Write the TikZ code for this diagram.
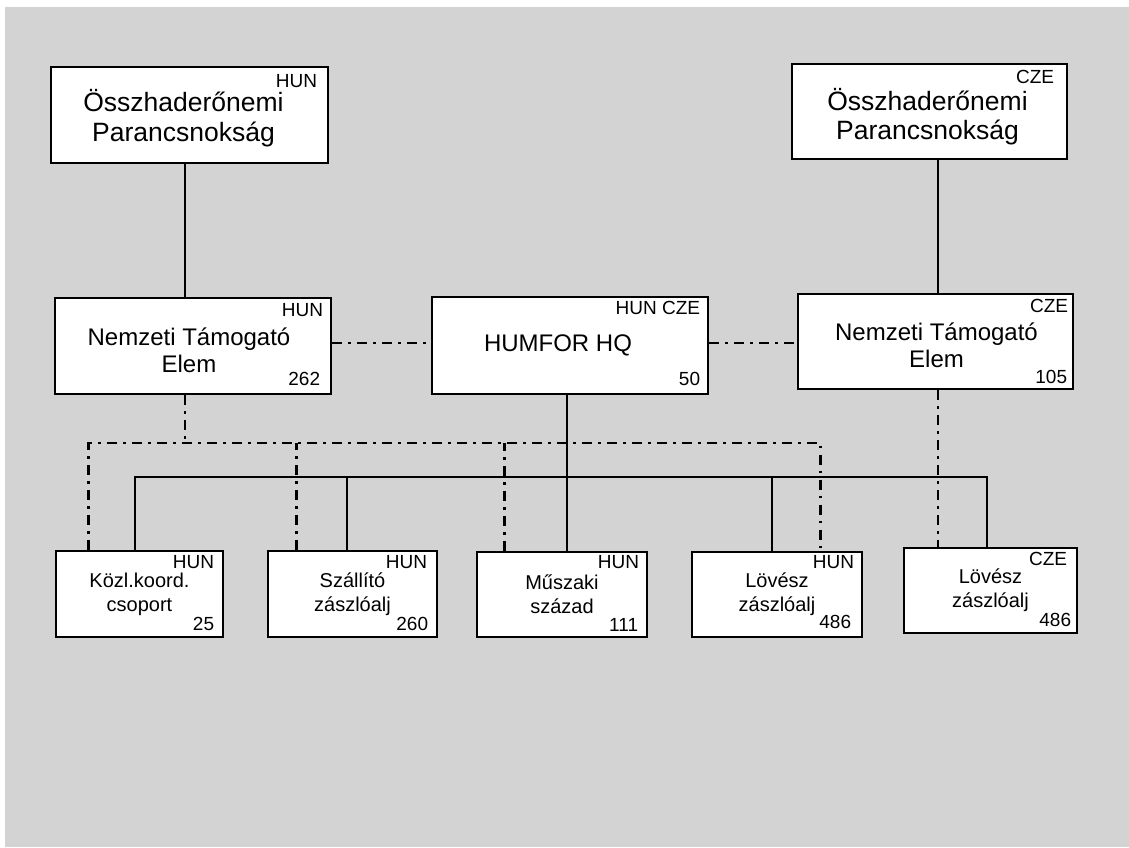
\documentclass[tikz,border=0pt]{standalone}
\usepackage{fontspec}
\setmainfont{Liberation Sans}
\usetikzlibrary{calc}

\definecolor{panel}{RGB}{211,211,211}

\tikzset{
  orgbox/.style={draw, line width=2.6pt, fill=white, inner sep=0pt},
  bigbox/.style={orgbox, minimum width=276pt, minimum height=96pt},
  smallbox/.style={orgbox, minimum width=169pt, minimum height=85pt, align=center,
    font=\fontsize{20}{24}\selectfont},
  toptext/.style={inner sep=0pt, align=center, font=\fontsize{26.5}{29.5}\selectfont},
  midtext/.style={inner sep=0pt, align=center, font=\fontsize{24}{27}\selectfont},
  corner/.style={inner sep=0pt, anchor=base east, font=\fontsize{19}{19}\selectfont},
  link/.style={line width=2pt},
  liaison/.style={line width=2.5pt, dash pattern=on 10pt off 6pt on 2.5pt off 6.5pt}
}

\begin{document}
\begin{tikzpicture}[x=1pt,y=-1pt]
\fill[white] (0,0) rectangle (1129,847);
\fill[panel] (5,7) rectangle (1129,847);
\useasboundingbox (0,0) rectangle (1129,847);

% joint commands
\node[bigbox, minimum width=277pt] (hqH) at (189.5,115) {};
\node[toptext] (hqH-txt) at ([shift={(-6,3)}]hqH.center) {Összhaderőnemi\\Parancsnokság};
\node[corner] (hqH-nat) at ([shift={(-12,22)}]hqH.north east) {HUN};

\node[bigbox, minimum width=275pt, minimum height=95pt] (hqC) at (929.5,111.5) {};
\node[toptext] (hqC-txt) at ([shift={(-2,5)}]hqC.center) {Összhaderőnemi\\Parancsnokság};
\node[corner] (hqC-nat) at ([shift={(-14,21)}]hqC.north east) {CZE};

% national support elements and HQ
\node[bigbox] (nteH) at (193,346) {};
\node[midtext] (nteH-txt) at ([shift={(-4,4)}]nteH.center) {Nemzeti Támogató\\Elem};
\node[corner] (nteH-nat) at ([shift={(-9,20)}]nteH.north east) {HUN};
\node[corner] (nteH-num) at ([shift={(-12,-10)}]nteH.south east) {262};

\node[bigbox, minimum height=97pt] (hq) at (570,345.5) {};
\node[midtext] (hq-txt) at ([shift={(-12,0)}]hq.center) {HUMFOR HQ};
\node[corner] (hq-nat) at ([shift={(-9,19)}]hq.north east) {HUN CZE};
\node[corner] (hq-num) at ([shift={(-9,-10)}]hq.south east) {50};

\node[bigbox, minimum width=275pt, minimum height=95pt] (nteC) at (935.5,341.5) {};
\node[midtext] (nteC-txt) at ([shift={(1,4)}]nteC.center) {Nemzeti Támogató\\Elem};
\node[corner] (nteC-nat) at ([shift={(-6,20)}]nteC.north east) {CZE};
\node[corner] (nteC-num) at ([shift={(-7,-7)}]nteC.south east) {105};

% units
\node[smallbox, minimum width=167pt, minimum height=86pt] (kozl) at (139.5,594) {Közl.koord.\\csoport};
\node[corner] (kozl-nat) at ([shift={(-10,19)}]kozl.north east) {HUN};
\node[corner] (kozl-num) at ([shift={(-10,-8)}]kozl.south east) {25};

\node[smallbox, minimum height=86pt] (szall) at (352.5,594) {Szállító\\zászlóalj};
\node[corner] (szall-nat) at ([shift={(-11,19)}]szall.north east) {HUN};
\node[corner] (szall-num) at ([shift={(-10,-8)}]szall.south east) {260};

\node[smallbox, minimum width=170pt] (musz) at (562,594.5) {Műszaki\\század};
\node[corner] (musz-nat) at ([shift={(-9,18)}]musz.north east) {HUN};
\node[corner] (musz-num) at ([shift={(-10,-7)}]musz.south east) {111};

\node[smallbox, minimum width=170pt] (lovH) at (777,594.5) {Lövész\\zászlóalj};
\node[corner] (lovH-nat) at ([shift={(-9,18)}]lovH.north east) {HUN};
\node[corner] (lovH-num) at ([shift={(-12,-10)}]lovH.south east) {486};

\node[smallbox, minimum width=173pt] (lovC) at (990.5,590.5) {Lövész\\zászlóalj};
\node[corner] (lovC-nat) at ([shift={(-11,19)}]lovC.north east) {CZE};
\node[corner] (lovC-num) at ([shift={(-7,-8)}]lovC.south east) {486};

% axes and rows for the connectors
\coordinate (hun-axis) at (185,0);
\coordinate (hq-axis) at (567,0);
\coordinate (cze-axis) at (938,0);
\coordinate (link-row) at (0,343);
\coordinate (cbus) at (0,443);
\coordinate (bus) at (0,477);

% command lines
\draw[link] (hqH.south -| hun-axis) -- (nteH.north -| hun-axis);
\draw[link] (hqC.south -| cze-axis) -- (nteC.north -| cze-axis);
\draw[link] (hq.south -| hq-axis) -- (musz.north -| hq-axis);

\path ([xshift=80pt]kozl.north west) coordinate (kozl-up)
      ([xshift=80pt]szall.north west) coordinate (szall-up)
      ([xshift=81pt]lovH.north west) coordinate (lovH-up)
      ([xshift=84pt]lovC.north west) coordinate (lovC-up);
\draw[link] (kozl-up) -- (kozl-up |- bus) -- (lovC-up |- bus) -- (lovC-up);
\draw[link] (szall-up) -- (szall-up |- bus);
\draw[link] (lovH-up) -- (lovH-up |- bus);

% national support lines
\path ([xshift=34pt]kozl.north west) coordinate (kozl-co)
      ([xshift=30pt]szall.north west) coordinate (szall-co)
      ([xshift=29pt]musz.north west) coordinate (musz-co)
      ([xshift=-43pt]lovH.north east) coordinate (lovH-co);
\draw[liaison] (nteH.east |- link-row) -- (hq.west |- link-row);
\draw[liaison] (hq.east |- link-row) -- (nteC.west |- link-row);
\draw[liaison] (nteH.south -| hun-axis) -- (hun-axis |- cbus);
\draw[liaison] (kozl-co) -- (kozl-co |- cbus) -- (lovH-co |- cbus) -- (lovH-co);
\draw[liaison] (szall-co) -- (szall-co |- cbus);
\draw[liaison] (musz-co) -- (musz-co |- cbus);
\draw[liaison] (nteC.south -| cze-axis) -- (lovC.north -| cze-axis);
\end{tikzpicture}
\end{document}
